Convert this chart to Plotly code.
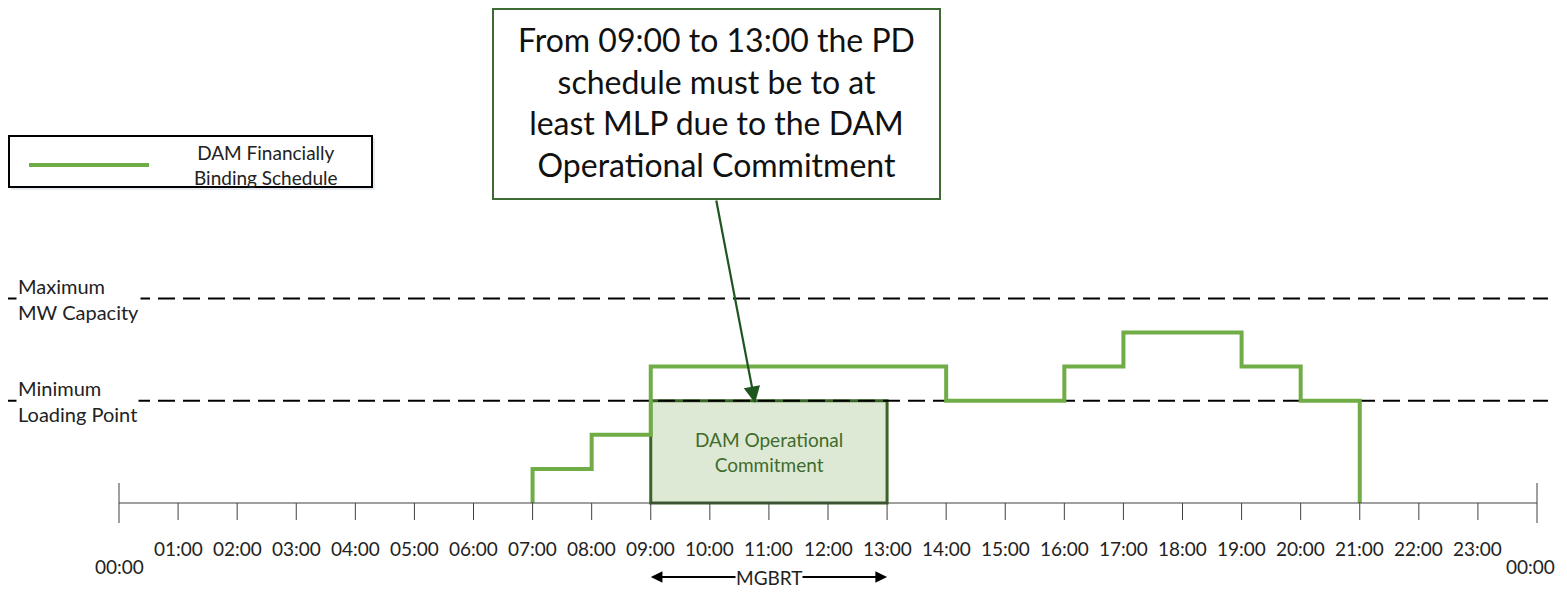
import plotly.graph_objects as go

# schedule data (hours, level units; MLP = 3, max capacity = 6)
step_hours = [7, 7, 8, 9, 14, 16, 17, 19, 20, 21, 21]
step_levels = [0, 1, 2, 4, 3, 4, 5, 4, 3, 3, 0]
mlp_level = 3
max_level = 6
commit_start = 9
commit_end = 13
hours = list(range(0, 25))
hour_labels = ["%02d:00" % h for h in hours]

# page body has an 8px margin, so the figure is drawn 8px in from the window corner
OFF = 8
W, H = 1567 - OFF, 615 - 2 * OFF
GREEN = "#70AD47"
DKGREEN = "#3B6528"
FONT = "Lato"

# axis scaling (window px): 0h -> 119, 24h -> 1537 ; level 0 -> 503, 34.1 px per unit
xs = 1418 / 24
x0 = -(119 - OFF) / xs
x1 = x0 + W / xs
ys = 34.1
y1 = (503 - OFF) / ys
y0 = y1 - H / ys


def px(x):
    return (x - OFF) / W


def py(y):
    return 1 - (y - OFF) / H


fig = go.Figure()

fig.add_trace(go.Scatter(x=step_hours, y=step_levels, mode="lines",
                         line=dict(color=GREEN, width=4, shape="hv"),
                         hoverinfo="skip", showlegend=False))

shapes = []
# commitment box
shapes.append(dict(type="rect", xref="x", yref="y", x0=commit_start, x1=commit_end,
                   y0=0, y1=mlp_level, fillcolor="#DDE9D4",
                   line=dict(color=DKGREEN, width=3), layer="below"))
# dashed reference lines
for lvl in [max_level, mlp_level]:
    shapes.append(dict(type="line", xref="x", yref="y", x0=(8 - 119) / xs, x1=(1548 - 119) / xs,
                       y0=lvl, y1=lvl, line=dict(color="black", width=2, dash="17px,8px"),
                       layer="below"))
# time axis
shapes.append(dict(type="line", xref="x", yref="y", x0=hours[0], x1=hours[-1], y0=0, y1=0,
                   line=dict(color="#404040", width=1)))
for h in hours:
    if h in (hours[0], hours[-1]):
        shapes.append(dict(type="line", xref="x", yref="y", x0=h, x1=h, y0=20 / ys, y1=-20 / ys,
                           line=dict(color="#404040", width=1)))
    else:
        shapes.append(dict(type="line", xref="x", yref="y", x0=h, x1=h, y0=0, y1=-17 / ys,
                           line=dict(color="#404040", width=1)))
# legend box with shadow
shapes.append(dict(type="rect", xref="paper", yref="paper", x0=px(11), x1=px(375),
                   y0=py(190), y1=py(138), fillcolor="#E6EBF2", line=dict(width=0)))
shapes.append(dict(type="rect", xref="paper", yref="paper", x0=px(9), x1=px(372),
                   y0=py(187), y1=py(136), fillcolor="white", line=dict(color="black", width=2)))
shapes.append(dict(type="line", xref="paper", yref="paper", x0=px(29), x1=px(149),
                   y0=py(165), y1=py(165), line=dict(color=GREEN, width=4)))
# callout box
shapes.append(dict(type="rect", xref="paper", yref="paper", x0=px(493), x1=px(940),
                   y0=py(199), y1=py(9), fillcolor="white", line=dict(color="#3D6B33", width=2)))

ann = []
ann.append(dict(xref="paper", yref="paper", x=px(266), y=py(165), xanchor="center",
                yanchor="middle", text="DAM Financially<br>Binding Schedule", showarrow=False,
                font=dict(family=FONT, size=19, color="#222")))
ann.append(dict(xref="paper", yref="paper", x=px(716), y=py(102), xanchor="center",
                yanchor="middle",
                text="From 09:00 to 13:00 the PD<br>schedule must be to at<br>least MLP due to the DAM<br>Operational Commitment",
                showarrow=False, font=dict(family=FONT, size=32, color="#111")))
ann.append(dict(xref="paper", yref="paper", x=px(755), y=py(403), ax=-39, ay=-204,
                text="", showarrow=True, arrowhead=2, arrowsize=1.5, arrowwidth=2.2,
                arrowcolor="#1F561F"))
ann.append(dict(xref="x", yref="y", x=(commit_start + commit_end) / 2, y=mlp_level / 2,
                xanchor="center", yanchor="middle",
                text="DAM Operational<br>Commitment", showarrow=False,
                font=dict(family=FONT, size=19, color="#3F6B2C")))
ann.append(dict(xref="paper", yref="paper", x=px(16), y=py(299), xanchor="left",
                yanchor="middle", text="Maximum<br>MW Capacity", showarrow=False, align="left",
                bgcolor="white", borderpad=1, font=dict(family=FONT, size=20, color="#222")))
ann.append(dict(xref="paper", yref="paper", x=px(16), y=py(401), xanchor="left",
                yanchor="middle", text="Minimum<br>Loading Point", showarrow=False, align="left",
                bgcolor="white", borderpad=1, font=dict(family=FONT, size=20, color="#222")))
for h, lab in zip(hours, hour_labels):
    if h == hours[-1]:
        # last label sits at the right page edge; anchor it so it is not clipped
        ann.append(dict(xref="paper", yref="paper", x=px(1557), y=py(566), xanchor="right",
                        yanchor="middle", text="00:00", showarrow=False,
                        font=dict(family=FONT, size=19, color="#222")))
        continue
    yy = py(566) if h == hours[0] else py(548)
    ann.append(dict(xref="x", yref="paper", x=h, y=yy, xanchor="center", yanchor="middle",
                    text=lab, showarrow=False, font=dict(family=FONT, size=19, color="#222")))
# MGBRT span
mid = (commit_start + commit_end) / 2
for end in (commit_start, commit_end):
    ann.append(dict(xref="x", yref="paper", x=end, y=py(577), axref="x", ayref="pixel",
                    ax=mid, ay=0, text="", showarrow=True, arrowhead=2,
                    arrowsize=1.3, arrowwidth=1.8, arrowcolor="black"))
ann.append(dict(xref="x", yref="paper", x=mid, y=py(577), xanchor="center", yanchor="middle",
                text="MGBRT", showarrow=False, bgcolor="white", borderpad=0,
                font=dict(family=FONT, size=19, color="#222")))

fig.update_layout(width=W, height=H, margin=dict(l=0, r=0, t=0, b=0),
                  paper_bgcolor="white", plot_bgcolor="white",
                  xaxis=dict(range=[x0, x1], visible=False, fixedrange=True),
                  yaxis=dict(range=[y0, y1], visible=False, fixedrange=True),
                  shapes=shapes, annotations=ann, showlegend=False)

fig.write_html("out.html")
